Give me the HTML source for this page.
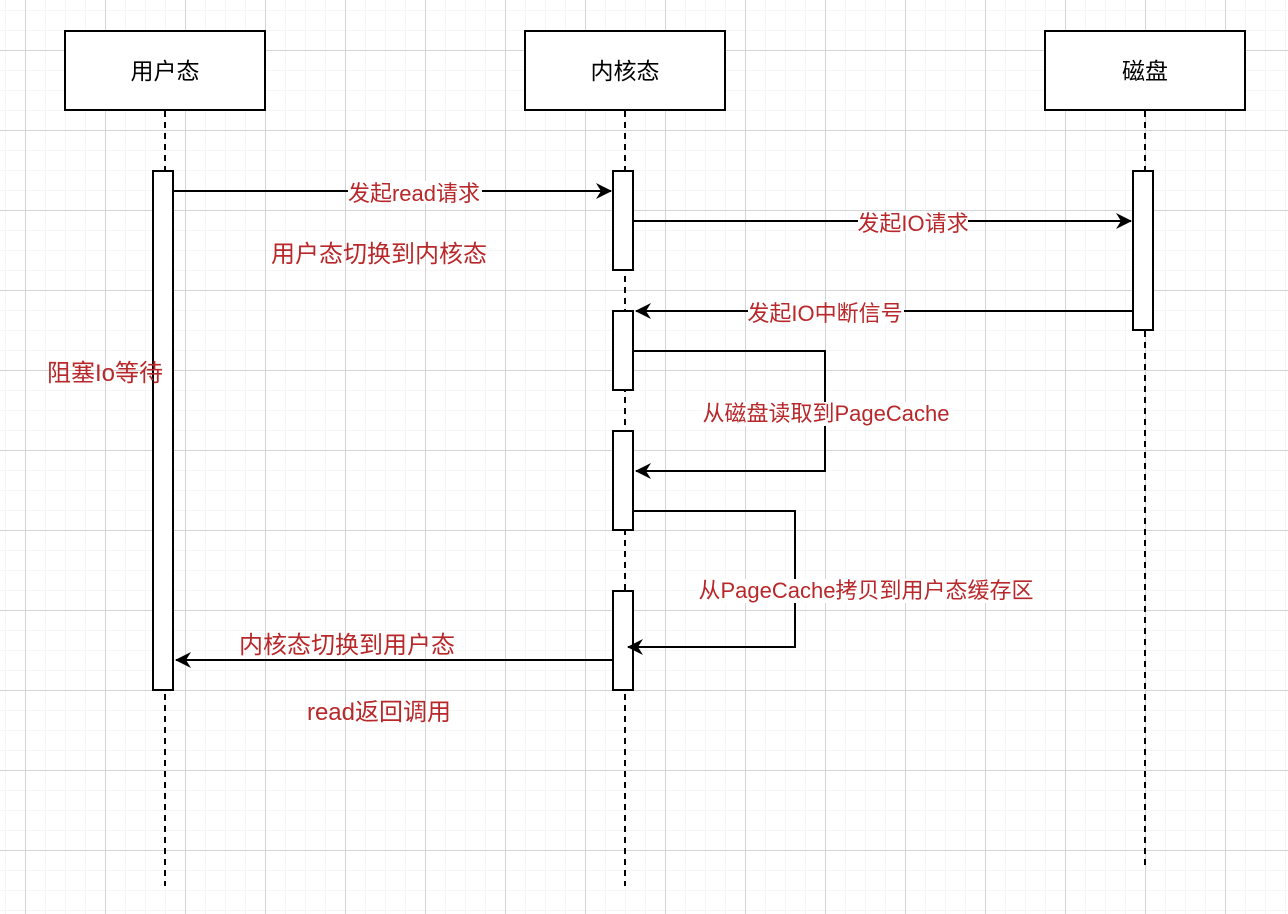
<!DOCTYPE html>
<html><head><meta charset="utf-8"><style>
html,body{margin:0;padding:0;background:#fff;}
svg{display:block;}
text{font-family:"Liberation Sans","Noto Sans CJK SC",sans-serif;}
</style></head><body>
<svg width="1288" height="914" viewBox="0 0 1288 914" xmlns="http://www.w3.org/2000/svg">
<defs>
<pattern id="minor" x="5" y="10" width="20" height="20" patternUnits="userSpaceOnUse">
<path d="M0 0H20M0 0V20" stroke="#ececec" stroke-width="1" fill="none"/>
</pattern>
<pattern id="major" x="25" y="50" width="80" height="80" patternUnits="userSpaceOnUse">
<path d="M0 0.5H80M0.5 0V80" stroke="#d4d4d4" stroke-width="1" fill="none"/>
</pattern>
<marker id="ar" markerWidth="18" markerHeight="16" refX="15" refY="8" orient="auto" markerUnits="userSpaceOnUse">
<path d="M0 0L16 8L0 16L5 8Z" fill="#000"/>
</marker>
</defs>
<rect width="1288" height="914" fill="#fff"/>
<rect width="1288" height="914" fill="url(#minor)"/>
<rect width="1288" height="914" fill="url(#major)"/>

<g stroke="#000" stroke-width="2" stroke-dasharray="6 5" fill="none">
<line x1="165" y1="111" x2="165" y2="886"/>
<line x1="625" y1="111" x2="625" y2="886"/>
<line x1="1145" y1="111" x2="1145" y2="870"/>
</g>

<g fill="#fff" stroke="#000" stroke-width="2">
<rect x="65" y="31" width="200" height="79"/>
<rect x="525" y="31" width="200" height="79"/>
<rect x="1045" y="31" width="200" height="79"/>
<rect x="153" y="171" width="20" height="519"/>
<rect x="613" y="171" width="20" height="99"/>
<rect x="613" y="311" width="20" height="79"/>
<rect x="613" y="431" width="20" height="99"/>
<rect x="613" y="591" width="20" height="99"/>
<rect x="1133" y="171" width="20" height="159"/>
</g>

<g font-size="23" text-anchor="middle" fill="#000">
<text x="165" y="79">用户态</text>
<text x="625" y="79">内核态</text>
<text x="1145" y="79">磁盘</text>
</g>

<g stroke="#000" stroke-width="2" fill="none">
<line x1="173" y1="191" x2="611" y2="191" marker-end="url(#ar)"/>
<line x1="633" y1="221" x2="1131" y2="221" marker-end="url(#ar)"/>
<line x1="1133" y1="311" x2="636" y2="311" marker-end="url(#ar)"/>
<polyline points="633,351 825,351 825,471 636,471" marker-end="url(#ar)"/>
<polyline points="633,511 795,511 795,647 628,647" marker-end="url(#ar)"/>
<line x1="613" y1="660" x2="176" y2="660" marker-end="url(#ar)"/>
</g>

<g font-size="22" fill="#b8282a" text-anchor="middle">
<rect x="348" y="181" width="134" height="22" fill="#fff"/>
<text x="414" y="201">发起read请求</text>
<rect x="858" y="211" width="110" height="22" fill="#fff"/>
<text x="913" y="231">发起IO请求</text>
<rect x="748" y="301" width="156" height="22" fill="#fff"/>
<text x="825" y="321">发起IO中断信号</text>
<rect x="703" y="402" width="247" height="24" fill="#fff"/>
<text x="826" y="421">从磁盘读取到PageCache</text>
<rect x="699" y="579" width="334" height="24" fill="#fff"/>
<text x="866" y="598">从PageCache拷贝到用户态缓存区</text>
</g>
<g font-size="24" fill="#b8282a" text-anchor="middle">
<text x="347" y="653">内核态切换到用户态</text>
<text x="379" y="262">用户态切换到内核态</text>
<text x="105" y="381">阻塞Io等待</text>
<text x="379" y="720">read返回调用</text>
</g>
</svg>
</body></html>
